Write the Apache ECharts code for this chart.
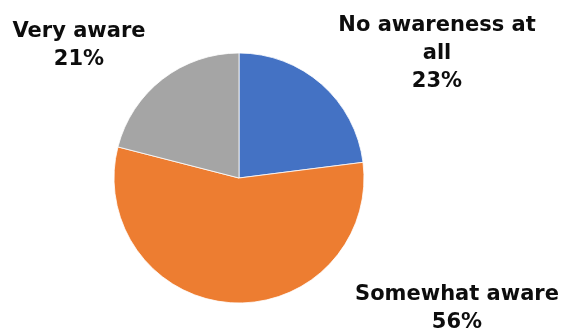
<!DOCTYPE html>
<html>
<head>
<meta charset="utf-8">
<style>
  html, body { margin: 0; padding: 0; background: #fff; }
  #chart { width: 564px; height: 335px; }
</style>
<script src="https://cdn.jsdelivr.net/npm/echarts@6/dist/echarts.min.js"></script>
</head>
<body>
<div id="chart"></div>
<script>
// Awareness levels, clockwise from 12 o'clock
const categories = ['No awareness at\nall', 'Somewhat aware', 'Very aware'];
const shares = [23, 56, 21];
const colors = ['#4472C4', '#ED7D31', '#A5A5A5'];
// Label block anchors (centre of each text block)
const labelAnchors = [[437, 54], [457, 309], [79, 46]];

const chart = echarts.init(document.getElementById('chart'));
chart.setOption({
  animation: false,
  series: [{
    type: 'pie',
    center: [239, 178],
    radius: [0, 125],
    startAngle: 90,
    clockwise: true,
    data: categories.map((name, i) => ({
      name: name,
      value: shares[i],
      itemStyle: { color: colors[i] }
    })),
    itemStyle: { borderColor: '#fff', borderWidth: 0.8 },
    label: {
      show: true,
      position: 'outside',
      formatter: p => p.name + '\n' + p.value + '%',
      fontFamily: 'DejaVu Sans',
      fontWeight: 'bold',
      fontSize: 21,
      lineHeight: 28,
      color: '#0d0d0d',
      align: 'center',
      overflow: 'none',
      width: 300
    },
    labelLine: { show: false },
    labelLayout: p => ({
      x: labelAnchors[p.dataIndex][0],
      y: labelAnchors[p.dataIndex][1],
      align: 'center',
      verticalAlign: 'middle'
    })
  }]
});
</script>
</body>
</html>
